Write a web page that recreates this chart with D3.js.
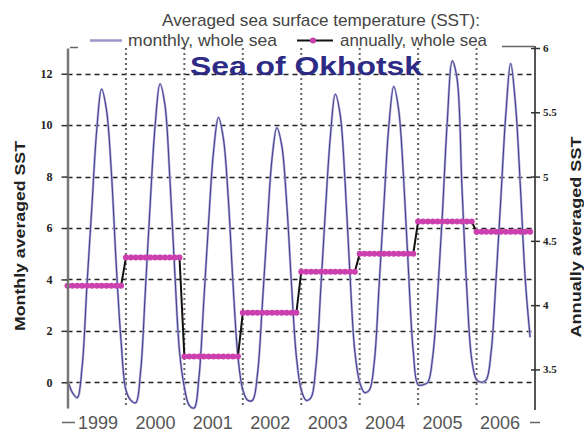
<!DOCTYPE html>
<html>
<head>
<meta charset="utf-8">
<script src="https://cdn.jsdelivr.net/npm/d3@7"></script>
<style>
  body { margin: 0; background: #fff; }
  svg { display: block; font-family: "Liberation Sans", Arial, sans-serif; }
</style>
</head>
<body>
<svg width="584" height="435"></svg>
<script>
const YEARS = ["1999", "2000", "2001", "2002", "2003", "2004", "2005", "2006"];

// monthly SST, Jan..Dec, one row per year
const MONTHLY_SST = [
  [0.1, -0.4, -0.6, 0.6, 3.8, 6.8, 9.8, 11.4, 10.6, 8.2, 4.6, 1.6],
  [-0.3, -0.7, -0.8, 0.4, 3.6, 7.0, 10.0, 11.6, 10.8, 8.0, 4.4, 1.2],
  [-0.2, -0.9, -1.0, 0.2, 3.2, 6.3, 9.0, 10.3, 9.5, 7.2, 3.8, 1.0],
  [-0.3, -0.7, -0.7, 0.3, 3.0, 6.0, 8.7, 9.9, 9.2, 7.0, 3.8, 1.0],
  [-0.3, -0.7, -0.6, 0.6, 3.6, 6.8, 9.6, 11.2, 10.4, 7.8, 4.2, 1.2],
  [0.0, -0.4, -0.3, 0.8, 3.8, 7.0, 10.0, 11.5, 10.6, 8.0, 4.4, 1.2],
  [-0.1, -0.1, 0.0, 1.0, 3.4, 6.6, 10.2, 12.5, 11.8, 7.6, 3.6, 0.9],
  [0.1, 0.0, 0.1, 1.2, 4.0, 7.2, 10.4, 12.4, 10.8, 7.6, 4.0, 1.75]
];

const ANNUAL_SST = [4.15, 4.37, 3.6, 3.94, 4.26, 4.4, 4.65, 4.57];

const LEFT_TICKS = [0, 2, 4, 6, 8, 10, 12];
const RIGHT_TICKS = [3.5, 4, 4.5, 5, 5.5, 6];

const main = function() {
  const svg = d3.select("svg");
  const left = 67.5;
  const right = 535;
  const top = 48;
  const bottom = 408;

  const x = d3.scaleLinear().domain([0, 96]).range([left, right]);
  const y = d3.scaleLinear().domain([-1, 13]).range([bottom, top]);
  const y2 = d3.scaleLinear().domain([3.2, 6]).range([bottom, top]);
  const xLabel = d3.scalePoint().domain(YEARS).range([98, 500]);

  const monthly = MONTHLY_SST.flat().map((v, i) => ({ i, v }));
  const annual = ANNUAL_SST.flatMap((v, k) =>
    d3.range(12).map(m => ({ i: k * 12 + m, v }))
  );

  // grid
  svg.append("g")
    .selectAll("line")
    .data(LEFT_TICKS)
    .enter()
    .append("line")
    .attr("x1", left)
    .attr("x2", right - 3)
    .attr("y1", d => Math.round(y(d)) + 0.5)
    .attr("y2", d => Math.round(y(d)) + 0.5)
    .attr("stroke", "#222")
    .attr("stroke-width", 1.4)
    .attr("stroke-dasharray", "5,4");

  svg.append("g")
    .selectAll("line")
    .data(d3.range(1, 8))
    .enter()
    .append("line")
    .attr("x1", d => x(d * 12))
    .attr("x2", d => x(d * 12))
    .attr("y1", top)
    .attr("y2", bottom - 2)
    .attr("stroke", "#666")
    .attr("stroke-width", 2)
    .attr("stroke-dasharray", "2,3");

  // monthly curve
  const line = d3.line()
    .x(d => x(d.i))
    .y(d => y(d.v))
    .curve(d3.curveCatmullRom.alpha(0.5));

  svg.append("path")
    .datum(monthly)
    .attr("d", line)
    .attr("fill", "none")
    .attr("stroke", "#b2aedb")
    .attr("stroke-width", 2.4);
  svg.append("path")
    .datum(monthly)
    .attr("d", line)
    .attr("fill", "none")
    .attr("stroke", "#45418c")
    .attr("stroke-width", 1.1);

  // annual steps
  svg.append("path")
    .datum(annual)
    .attr("d", d3.line().x(d => x(d.i)).y(d => y2(d.v)))
    .attr("fill", "none")
    .attr("stroke", "#111")
    .attr("stroke-width", 2);

  svg.append("g")
    .selectAll("circle")
    .data(annual)
    .enter()
    .append("circle")
    .attr("cx", d => x(d.i))
    .attr("cy", d => y2(d.v))
    .attr("r", 3)
    .attr("fill", "#cc3fae");

  // axes
  const axL = svg.append("g")
    .attr("transform", `translate(${left},0)`)
    .call(d3.axisLeft(y).tickValues(LEFT_TICKS).tickSize(6).tickSizeOuter(0).tickPadding(9));
  axL.select(".domain").attr("stroke", "#777").attr("stroke-width", 2.5);
  axL.selectAll(".tick line").attr("stroke", "#333").attr("stroke-width", 1.5);
  axL.selectAll(".tick text")
    .attr("fill", "#222")
    .style("font", "bold 12px 'Liberation Serif', serif");

  const axR = svg.append("g")
    .attr("transform", `translate(${right},0)`)
    .call(d3.axisRight(y2).tickValues(RIGHT_TICKS).tickFormat(d3.format("~g"))
      .tickSize(5).tickSizeOuter(0).tickPadding(3));
  axR.select(".domain").attr("d", `M0,${top - 2}V${bottom + 2}`)
    .attr("stroke", "#555").attr("stroke-width", 2);
  axR.selectAll(".tick line").attr("x1", -4).attr("stroke", "#333").attr("stroke-width", 1.5);
  axR.selectAll(".tick text")
    .attr("fill", "#222")
    .style("font", "bold 11px 'Liberation Serif', serif");

  // odd little frame bits of the original
  const bits = svg.append("g").attr("stroke", "#666").attr("stroke-width", 1.5);
  bits.append("line").attr("x1", 70).attr("x2", 78).attr("y1", 47.5).attr("y2", 47.5);
  bits.append("line").attr("x1", 502).attr("x2", right).attr("y1", 46.5).attr("y2", 46.5);
  bits.append("line").attr("x1", 62).attr("x2", 75).attr("y1", 422.5).attr("y2", 422.5);
  bits.append("line").attr("x1", 530).attr("x2", 540).attr("y1", 422.5).attr("y2", 422.5);

  svg.append("g")
    .selectAll("text")
    .data(YEARS)
    .enter()
    .append("text")
    .attr("x", d => xLabel(d))
    .attr("y", 429)
    .attr("text-anchor", "middle")
    .attr("fill", "#555")
    .style("font-size", "18px")
    .text(d => d);

  // titles
  svg.append("text")
    .attr("x", 162).attr("y", 26)
    .attr("textLength", 318).attr("lengthAdjust", "spacingAndGlyphs")
    .attr("fill", "#444").style("font-size", "17px")
    .text("Averaged sea surface temperature (SST):");

  svg.append("line")
    .attr("x1", 90).attr("x2", 122).attr("y1", 40.5).attr("y2", 40.5)
    .attr("stroke", "#9d96cc").attr("stroke-width", 2.5);
  svg.append("text")
    .attr("x", 128).attr("y", 46)
    .attr("textLength", 149).attr("lengthAdjust", "spacingAndGlyphs")
    .attr("fill", "#444").style("font-size", "17px")
    .text("monthly, whole sea");

  svg.append("line")
    .attr("x1", 297).attr("x2", 333).attr("y1", 40.5).attr("y2", 40.5)
    .attr("stroke", "#111").attr("stroke-width", 2);
  svg.append("circle")
    .attr("cx", 313).attr("cy", 40.5).attr("r", 3).attr("fill", "#cc3fae");
  svg.append("text")
    .attr("x", 340).attr("y", 46)
    .attr("textLength", 147).attr("lengthAdjust", "spacingAndGlyphs")
    .attr("fill", "#444").style("font-size", "17px")
    .text("annually, whole sea");

  svg.append("text")
    .attr("x", 190).attr("y", 75)
    .attr("textLength", 232).attr("lengthAdjust", "spacingAndGlyphs")
    .attr("fill", "#2d2b86")
    .style("font-size", "26px").style("font-weight", "bold")
    .text("Sea of Okhotsk");

  svg.append("text")
    .attr("transform", "translate(20,236) rotate(-90)")
    .attr("dy", "0.35em")
    .attr("text-anchor", "middle")
    .attr("textLength", 190).attr("lengthAdjust", "spacingAndGlyphs")
    .attr("fill", "#222")
    .style("font-size", "15px").style("font-weight", "bold")
    .text("Monthly averaged SST");

  svg.append("text")
    .attr("transform", "translate(576,237) rotate(-90)")
    .attr("dy", "0.35em")
    .attr("text-anchor", "middle")
    .attr("textLength", 201).attr("lengthAdjust", "spacingAndGlyphs")
    .attr("fill", "#222")
    .style("font-size", "15px").style("font-weight", "bold")
    .text("Annually averaged SST");
};

window.onload = main;
</script>
</body>
</html>
